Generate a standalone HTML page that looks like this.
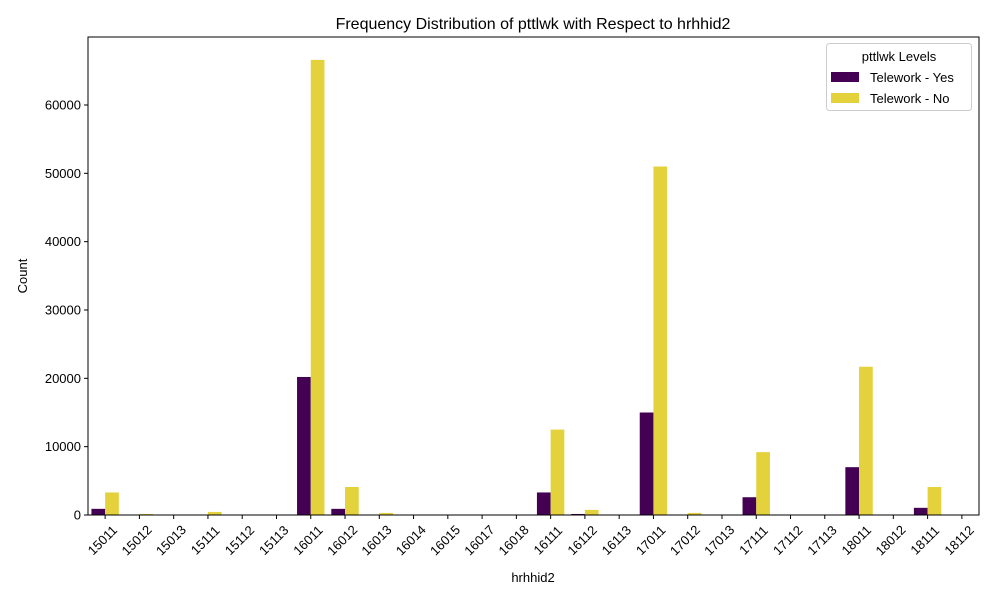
<!DOCTYPE html>
<html><head><meta charset="utf-8"><style>
body{margin:0;background:#fff;}
svg text{font-family:"Liberation Sans","DejaVu Sans",sans-serif;}
</style></head><body>
<svg id="chart" width="1000" height="600" xmlns="http://www.w3.org/2000/svg">
<text x="533" y="29" font-size="16" text-anchor="middle">Frequency Distribution of pttlwk with Respect to hrhhid2</text>
<g id="bars"></g>
<g id="xticks"></g>
<g id="yticks"></g>
<rect x="88" y="37" width="891" height="478" fill="none" stroke="#000" stroke-width="1"/>
<text x="533" y="582" font-size="13" text-anchor="middle">hrhhid2</text>
<text x="0" y="0" font-size="13" text-anchor="middle" transform="translate(27,276) rotate(-90)">Count</text>
<g>
<rect x="826.5" y="43.5" width="145" height="67" rx="3" fill="#fff" stroke="#ccc"/>
<text x="899" y="61" font-size="13" text-anchor="middle">pttlwk Levels</text>
<rect x="831" y="72" width="28" height="10" fill="#440154"/>
<text x="870" y="82" font-size="13">Telework - Yes</text>
<rect x="831" y="93" width="28" height="10" fill="#e3d23c"/>
<text x="870" y="103" font-size="13">Telework - No</text>
</g>
</svg>
<script>
const categories=["15011","15012","15013","15111","15112","15113","16011","16012","16013","16014","16015","16017","16018","16111","16112","16113","17011","17012","17013","17111","17112","17113","18011","18012","18111","18112"];
const yesValues=[900,0,0,0,0,0,20200,900,0,0,0,0,0,3300,150,0,15000,0,0,2600,0,0,7000,0,1050,0];
const noValues=[3300,150,0,450,0,0,66600,4100,300,0,0,0,0,12500,750,0,51000,300,0,9200,0,0,21700,0,4100,0];
const yTicks=[0,10000,20000,30000,40000,50000,60000];
const NS="http://www.w3.org/2000/svg";
const x0=88,x1=979,yb=515,yt=37,ymax=69950;
const band=(x1-x0)/categories.length;
function xs(i){return x0+band*(i+0.5);}
function ys(v){return yb-(v/ymax)*(yb-yt);}
function mk(t,a){const e=document.createElementNS(NS,t);for(const k in a)e.setAttribute(k,a[k]);return e;}
const bars=document.getElementById('bars'),xt=document.getElementById('xticks'),ytg=document.getElementById('yticks');
const bw=band*0.4;
categories.forEach((c,i)=>{
  const cx=xs(i);
  const r1=mk('rect',{x:cx-bw,y:ys(yesValues[i]),width:bw,height:yb-ys(yesValues[i]),fill:'#440154'});
  
  
  bars.appendChild(r1);
  const r2=mk('rect',{x:cx,y:ys(noValues[i]),width:bw,height:yb-ys(noValues[i]),fill:'#e3d23c'});
  
  
  bars.appendChild(r2);
  const tk=mk('line',{x1:cx,x2:cx,y1:yb,y2:yb+4,stroke:'#000'});
  
  
  xt.appendChild(tk);
  const t=mk('text',{x:0,y:0,'font-size':13,'text-anchor':'middle','dominant-baseline':'middle',transform:'translate('+(cx-2)+',541) rotate(-45)'});
  t.textContent=c;
  
  
  xt.appendChild(t);
});
yTicks.forEach(v=>{
  const y=ys(v);
  const l=mk('line',{x1:x0-4,x2:x0,y1:y,y2:y,stroke:'#000'});
  
  
  ytg.appendChild(l);
  const t=mk('text',{x:x0-7,y:y+4.5,'font-size':13,'text-anchor':'end'});
  t.textContent=v;
  
  
  ytg.appendChild(t);
});
</script>
</body></html>
